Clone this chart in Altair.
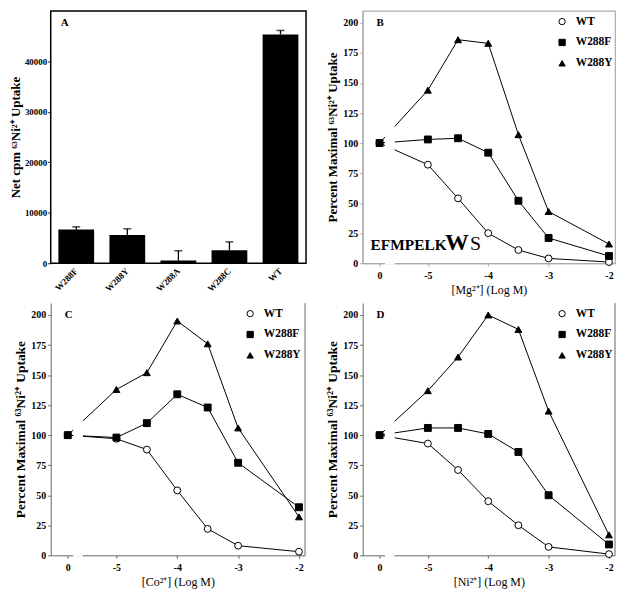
import altair as alt
import pandas as pd

FONT = "Liberation Serif"

# ---------------- Panel A data ----------------
mutants = ["W288F", "W288Y", "W288A", "W288C", "WT"]
uptake = [6680, 5590, 530, 2590, 45340]
uptake_err_top = [7210, 6820, 2470, 4230, 46120]

# ---------------- Panels B-D data ----------------
log_conc = [0, -5, -4.5, -4, -3.5, -3, -2]
series_names = ["WT", "W288F", "W288Y"]

mg_wt = [100, 82, 54, 25, 11, 4, 1]
mg_f = [100, 103, 104, 92, 52, 21, 6]
mg_y = [100, 144, 186, 183, 107, 43, 16]

co_wt = [100, 97, 88, 54, 22, 8, 3]
co_f = [100, 98, 110, 134, 123, 77, 40]
co_y = [100, 138, 152, 195, 176, 106, 32]

ni_wt = [100, 93, 71, 45, 25, 7, 1]
ni_f = [100, 106, 106, 101, 86, 50, 9]
ni_y = [100, 137, 165, 200, 188, 120, 17]

GAP = 0.8  # visual distance (in log units) between the "0" control and -5
BREAK = [0.09, 0.25]  # axis-break position (plot units)

H = 254


def to_pos(v):
    return 0.0 if v == 0 else GAP + (v + 5)


def make_df(wt, f, y):
    rows = []
    for name, vals in zip(series_names, [wt, f, y]):
        for c, v in zip(log_conc, vals):
            rows.append({"conc": c, "pos": to_pos(c), "series": name, "value": v})
    return pd.DataFrame(rows)


# ---------------- Panel A ----------------
WA = 257
dfa = pd.DataFrame({"mutant": mutants, "uptake": uptake, "err": uptake_err_top})

xa = alt.X("mutant:N", sort=mutants, title=None,
           scale=alt.Scale(paddingInner=0.3, paddingOuter=0.15),
           axis=alt.Axis(labelAngle=315, labelAlign="right", labelBaseline="middle",
                         labelFont=FONT, labelFontWeight="bold", labelFontSize=9,
                         labelColor="black", ticks=False, domain=False, labelPadding=6))


def ya(field):
    return alt.Y(field, title="Net cpm ⁶³Ni²⁺ Uptake",
                 scale=alt.Scale(domain=[0, 50000], nice=False),
                 axis=alt.Axis(values=[0, 10000, 20000, 30000, 40000], grid=False, domain=False,
                               format="d", labelOverlap=False,
                               labelFont=FONT, labelFontWeight="bold", labelFontSize=9,
                               labelColor="black", tickColor="black", tickSize=3,
                               titleFont=FONT, titleFontWeight="bold", titleFontSize=13,
                               titleColor="black", titlePadding=2, labelPadding=1))


bars = alt.Chart(dfa).mark_bar(color="black").encode(x=xa, y=ya("uptake:Q"))
err_rule = alt.Chart(dfa).mark_rule(color="black", strokeWidth=1.3).encode(
    x=xa, y=ya("uptake:Q"), y2="err:Q")
err_cap = alt.Chart(dfa).mark_tick(color="black", size=8, thickness=1.5).encode(
    x=xa, y=ya("err:Q"))
label_a = alt.Chart(alt.Data(values=[{}])).mark_text(
    text="A", font=FONT, fontWeight="bold", fontSize=11, align="left", baseline="middle"
).encode(x=alt.value(10), y=alt.value(12))

panel_a = alt.layer(bars, err_rule, err_cap, label_a).properties(
    width=WA, height=H, view=alt.ViewBackground(stroke="black", strokeWidth=1.5))


# ---------------- Curve panels ----------------
def legend_obj():
    return alt.Legend(title=None, orient="none", legendX=195, legendY=5,
                      padding=0, labelFont=FONT, labelFontWeight="bold",
                      labelFontSize=11.5, labelColor="black",
                      symbolSize=40, symbolStrokeColor="black",
                      symbolStrokeWidth=1, rowPadding=8, labelOffset=8)


def curve_panel(df, letter, xtitle, W, frame_color, full_box, axis_color, ytitle_size,
                motif=False):
    def xs(field):
        return alt.X(field, title=xtitle,
                     scale=alt.Scale(domain=[-0.28, 3.9], nice=False, zero=False),
                     axis=alt.Axis(values=[0, 0.8, 1.8, 2.8, 3.8], grid=False,
                                   labelExpr="datum.value < 0.5 ? '0' : toString(round(datum.value - 5.8))",
                                   labelFont=FONT, labelFontWeight="bold", labelFontSize=10,
                                   labelColor="black", tickColor=axis_color,
                                   domainColor=axis_color,
                                   tickSize=3, labelPadding=4, labelOverlap=False,
                                   titleFont=FONT, titleFontWeight="normal", titleFontSize=12,
                                   titleColor="black", titlePadding=4))

    ys = alt.Y("value:Q", title="Percent Maximal ⁶³Ni²⁺ Uptake",
               scale=alt.Scale(domain=[0, 210], nice=False),
               axis=alt.Axis(values=list(range(0, 201, 25)), grid=False, labelOverlap=False,
                             labelFont=FONT, labelFontWeight="bold", labelFontSize=10,
                             labelColor="black", tickColor=axis_color, domainColor=axis_color,
                             tickSize=3, labelPadding=2,
                             titleFont=FONT, titleFontWeight="bold", titleFontSize=ytitle_size,
                             titleColor="black", titlePadding=3))
    base = alt.Chart(df)
    lines = base.mark_line(color="black", strokeWidth=1).encode(
        x=xs("pos:Q"), y=ys, detail="series:N", order="pos:Q")
    brk = alt.Chart(alt.Data(values=[{"pos": BREAK[0], "b": BREAK[1]}])).mark_rect(
        color="white").encode(x=xs("pos:Q"), x2="b:Q", y=alt.value(40), y2=alt.value(H + 1.5))
    pts = base.mark_point(size=48, filled=True, opacity=1, strokeWidth=1).encode(
        x=xs("pos:Q"), y=ys,
        shape=alt.Shape("series:N", sort=series_names,
                        scale=alt.Scale(domain=series_names,
                                        range=["circle", "square", "triangle-up"]),
                        legend=legend_obj()),
        fill=alt.Fill("series:N", sort=series_names,
                      scale=alt.Scale(domain=series_names, range=["white", "black", "black"]),
                      legend=legend_obj()),
        stroke=alt.Stroke("series:N", sort=series_names,
                          scale=alt.Scale(domain=series_names,
                                          range=["black", "black", "black"]),
                          legend=legend_obj()))
    letter_t = alt.Chart(alt.Data(values=[{}])).mark_text(
        text=letter, font=FONT, fontWeight="bold", fontSize=11, align="left", baseline="middle"
    ).encode(x=alt.value(14), y=alt.value(12))
    layers = [lines, brk, pts, letter_t]
    if not full_box:
        right = alt.Chart(alt.Data(values=[{}])).mark_rule(color=axis_color, strokeWidth=1).encode(
            x=alt.value(W), y=alt.value(0), y2=alt.value(H))
        layers.append(right)
    if motif:
        t1 = alt.Chart(alt.Data(values=[{}])).mark_text(
            text="EFMPELK", font=FONT, fontWeight="bold", fontSize=15.5, align="left",
            baseline="alphabetic").encode(x=alt.value(8), y=alt.value(H - 13))
        t2 = alt.Chart(alt.Data(values=[{}])).mark_text(
            text="W", font=FONT, fontWeight="bold", fontSize=24, align="left",
            baseline="alphabetic").encode(x=alt.value(83), y=alt.value(H - 13))
        t3 = alt.Chart(alt.Data(values=[{}])).mark_text(
            text="S", font=FONT, fontWeight="normal", fontSize=20, align="left",
            baseline="alphabetic").encode(x=alt.value(108), y=alt.value(H - 13))
        layers += [t1, t2, t3]
    view = (alt.ViewBackground(stroke=frame_color, strokeWidth=1.2) if full_box
            else alt.ViewBackground(stroke=None))
    return alt.layer(*layers).properties(width=W, height=H, view=view)


panel_b = curve_panel(make_df(mg_wt, mg_f, mg_y), "B", "[Mg²⁺] (Log M)", 254,
                      "#aaaaaa", True, "#aaaaaa", 13, motif=True)
panel_c = curve_panel(make_df(co_wt, co_f, co_y), "C", "[Co²⁺] (Log M)", 256,
                      None, False, "#666666", 13.5)
panel_d = curve_panel(make_df(ni_wt, ni_f, ni_y), "D", "[Ni²⁺] (Log M)", 254,
                      None, False, "#666666", 13.5)

chart = alt.concat(panel_a, panel_b, panel_c, panel_d, columns=2,
                   spacing=alt.RowColnumber(row=40, column=57), bounds="flush") \
    .resolve_scale(x="independent", y="independent", shape="independent",
                   fill="independent", stroke="independent") \
    .resolve_legend(shape="independent", fill="independent", stroke="independent") \
    .properties(padding=0).configure_view(stroke=None)

chart.save("out.html", embed_options={"renderer": "svg", "actions": False})
